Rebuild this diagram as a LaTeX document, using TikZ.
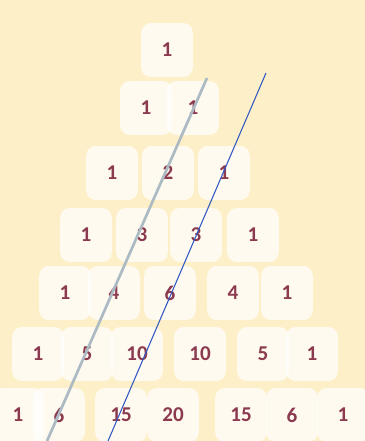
\documentclass[tikz,border=0pt]{standalone}
\usepackage{fontspec}
\setmainfont{Carlito}
\usepackage{xcolor}
\definecolor{paper}{RGB}{253,240,200}
\definecolor{numred}{RGB}{140,58,80}
\definecolor{diaggray}{RGB}{172,186,196}
\definecolor{diagblue}{RGB}{48,88,196}

\begin{document}
\begin{tikzpicture}[
    x=0.03cm, y=-0.03cm,
    num/.style={fill=white, fill opacity=0.72, text opacity=1, rounded corners=8pt,
                minimum width=44, minimum height=46, inner sep=1pt, text=numred,
                font=\fontsize{18}{21}\selectfont\bfseries},
    grayline/.style={diaggray, line width=2.3pt},
    blueline/.style={diagblue, line width=0.9pt}
]
\fill[paper] (0,0) rectangle (365,441);
\useasboundingbox (0,0) rectangle (365,441);

% row 0
\node[num] (p00) at (167,50) {1};
% row 1
\node[num] (p10) at (146,108) {1};
\node[num] (p11) at (193,108) {1};
% row 2
\node[num] (p20) at (112,173) {1};
\node[num] (p21) at (168,173) {2};
\node[num] (p22) at (224,173) {1};
% row 3
\node[num] (p30) at (86,235) {1};
\node[num] (p31) at (142,235) {3};
\node[num] (p32) at (196,235) {3};
\node[num] (p33) at (253,235) {1};
% row 4
\node[num] (p40) at (65,293) {1};
\node[num] (p41) at (114,293) {4};
\node[num] (p42) at (170,293) {6};
\node[num] (p43) at (233,293) {4};
\node[num] (p44) at (287,293) {1};
% row 5
\node[num] (p50) at (38,354) {1};
\node[num] (p51) at (87,354) {5};
\node[num] (p52) at (137,354) {10};
\node[num] (p53) at (200,354) {10};
\node[num] (p54) at (263,354) {5};
\node[num] (p55) at (312,354) {1};
% row 6
\node[num] (p60) at (18,415) {1};
\node[num] (p61) at (59,415) {6};
\node[num] (p62) at (121,415) {15};
\node[num] (p63) at (173,415) {20};
\node[num] (p64) at (241,415) {15};
\node[num] (p65) at (292,415) {6};
\node[num] (p66) at (343,415) {1};

% diagonals
\coordinate (gtop) at (207,78);
\coordinate (gbot) at (47,441);
\coordinate (btop) at (266,73);
\coordinate (bbot) at (108,441);
\draw[grayline] (gtop) -- (gbot);
\draw[blueline] (btop) -- (bbot);
\end{tikzpicture}
\end{document}
